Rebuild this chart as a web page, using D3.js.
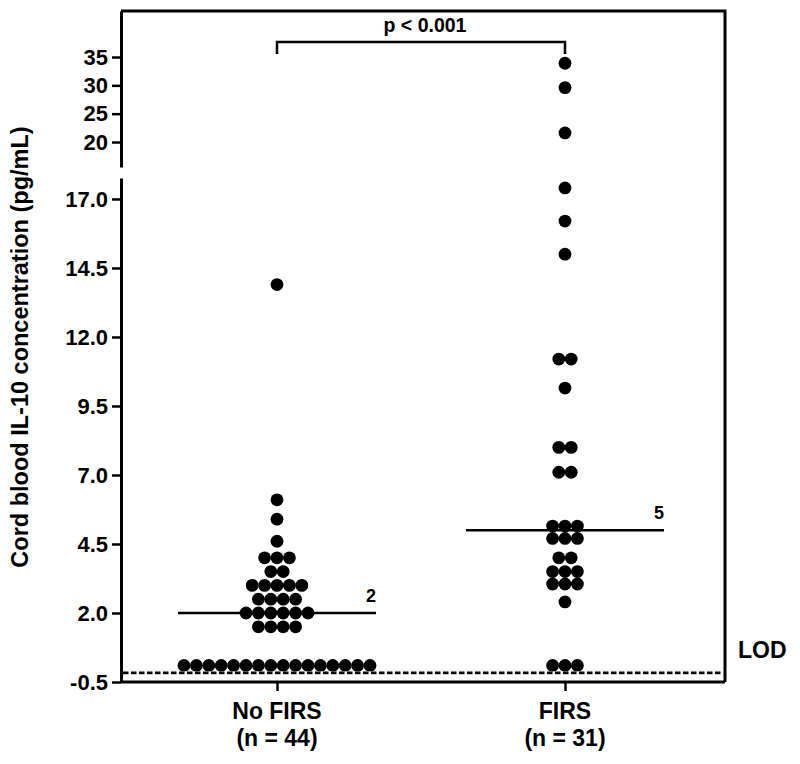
<!DOCTYPE html>
<html>
<head>
<meta charset="utf-8">
<script src="https://cdn.jsdelivr.net/npm/d3@7"></script>
<style>
  body { margin: 0; background: #fff; }
  svg text { font-family: 'Liberation Sans', Arial, sans-serif; font-weight: bold; fill: #000; }
</style>
</head>
<body>
<svg id="chart" width="800" height="764"></svg>
<script>
  'use strict';

  // groups on the x axis
  var groups = ['No FIRS', 'FIRS'];
  var groupCounts = ['(n = 44)', '(n = 31)'];

  // cord blood IL-10 (pg/mL), one entry per subject
  var noFirs = [0.1, 0.1, 0.1, 0.1, 0.1, 0.1, 0.1, 0.1, 0.1, 0.1, 0.1, 0.1, 0.1, 0.1, 0.1, 0.1,
                1.5, 1.5, 1.5, 1.5,
                2.0, 2.0, 2.0, 2.0, 2.0, 2.0,
                2.5, 2.5, 2.5, 2.5,
                3.0, 3.0, 3.0, 3.0, 3.0,
                3.5, 3.5,
                4.0, 4.0, 4.0,
                4.6, 5.4, 6.1, 13.9];
  var firs = [0.1, 0.1, 0.1,
              2.4,
              3.05, 3.05, 3.05,
              3.5, 3.5, 3.5,
              4.0, 4.0,
              4.7, 4.7, 4.7,
              5.15, 5.15, 5.15,
              7.1, 7.1, 8.0, 8.0,
              10.15, 11.2, 11.2,
              15.0, 16.2, 17.4,
              21.6, 29.6, 33.9];
  var medians = [2, 5];
  var medianLabels = ['2', '5'];

  // tick labels on the broken y axis
  var lowerTicks = [-0.5, 2.0, 4.5, 7.0, 9.5, 12.0, 14.5, 17.0];
  var upperTicks = [20, 25, 30, 35];
  var lodValue = -0.17;
  var pText = 'p < 0.001';

  (function() {
    var mLeft = 121, mRight = 725, mTop = 11, mBottom = 682;
    var breakTop = 167, breakBottom = 178;
    var r = 6.4, step = 12.4;

    var svg = d3.select('#chart');

    var x = d3.scalePoint().domain(groups).range([277, 565]);
    var yLow = d3.scaleLinear().domain([-0.5, 17.76]).range([mBottom, breakBottom]);
    var yHigh = d3.scaleLinear().domain([15.59, 43.12]).range([breakTop, mTop]);
    var y = function(v) { return v > 18 ? yHigh(v) : yLow(v); };

    // plain hyphen for negatives, as in the original
    var fmt1 = function(v) { return v.toFixed(1); };

    // frame: top and right sides
    svg.append('path')
        .attr('d', 'M' + mLeft + ',' + mTop + 'H' + mRight + 'V' + mBottom)
        .style('fill', 'none')
        .style('stroke', '#000')
        .style('stroke-width', 3);

    // y axis, two segments
    var axisLow = svg.append('g')
        .attr('transform', 'translate(' + mLeft + ',0)')
        .call(d3.axisLeft(yLow).tickValues(lowerTicks).tickFormat(fmt1).tickSize(9).tickSizeOuter(0).tickPadding(4));
    var axisHigh = svg.append('g')
        .attr('transform', 'translate(' + mLeft + ',0)')
        .call(d3.axisLeft(yHigh).tickValues(upperTicks).tickFormat(d3.format('d')).tickSize(9).tickSizeOuter(0).tickPadding(4));

    // x axis
    var axisX = svg.append('g')
        .attr('transform', 'translate(0,' + mBottom + ')')
        .call(d3.axisBottom(x).tickSize(9).tickSizeOuter(0).tickFormat(''));
    axisX.select('.domain').attr('d', 'M' + mLeft + ',0H' + mRight);

    [axisLow, axisHigh, axisX].forEach(function(a) {
      a.select('.domain').style('stroke-width', 3);
      a.selectAll('.tick line').style('stroke-width', 2.5);
      a.selectAll('.tick text').style('font-size', '22px');
      a.attr('font-family', null).attr('font-size', null);
    });

    // group labels
    groups.forEach(function(g, i) {
      svg.append('text')
          .attr('x', x(g)).attr('y', 719)
          .style('font-size', '23px')
          .style('text-anchor', 'middle')
          .text(g);
      svg.append('text')
          .attr('x', x(g)).attr('y', 746)
          .style('font-size', '23px')
          .style('text-anchor', 'middle')
          .text(groupCounts[i]);
    });

    // y title
    svg.append('text')
        .attr('transform', 'translate(28,347) rotate(-90)')
        .style('font-size', '23.5px')
        .style('text-anchor', 'middle')
        .text('Cord blood IL-10 concentration (pg/mL)');

    // dots: equal values share a row, centred on the group
    [noFirs, firs].forEach(function(vals, gi) {
      var rows = d3.groups(vals, function(v) { return v; });
      rows.forEach(function(row) {
        var n = row[1].length;
        row[1].forEach(function(v, k) {
          svg.append('circle')
              .attr('cx', x(groups[gi]) + (k - (n - 1) / 2) * step)
              .attr('cy', y(v))
              .attr('r', r)
              .style('fill', '#000');
        });
      });
    });

    // median lines
    medians.forEach(function(m, i) {
      var cx = x(groups[i]);
      svg.append('line')
          .attr('x1', cx - 99).attr('x2', cx + 99)
          .attr('y1', yLow(m)).attr('y2', yLow(m))
          .style('stroke', '#000')
          .style('stroke-width', 2.5);
      svg.append('text')
          .attr('x', cx + 99).attr('y', yLow(m) - 11)
          .style('font-size', '18px')
          .style('text-anchor', 'end')
          .text(medianLabels[i]);
    });

    // limit of detection
    svg.append('line')
        .attr('x1', mLeft + 2).attr('x2', mRight - 4)
        .attr('y1', yLow(lodValue)).attr('y2', yLow(lodValue))
        .style('stroke', '#fff')
        .style('stroke-width', 3);
    svg.append('line')
        .attr('x1', mLeft + 2).attr('x2', mRight - 4)
        .attr('y1', yLow(lodValue)).attr('y2', yLow(lodValue))
        .style('stroke', '#000')
        .style('stroke-width', 2.8)
        .style('stroke-dasharray', '5.5,2.5');
    svg.append('text')
        .attr('x', 738).attr('y', 658)
        .style('font-size', '23px')
        .text('LOD');

    // significance bracket
    svg.append('path')
        .attr('d', 'M' + x(groups[0]) + ',54V42H' + x(groups[1]) + 'V54')
        .style('fill', 'none')
        .style('stroke', '#000')
        .style('stroke-width', 2.5);
    svg.append('text')
        .attr('x', (x(groups[0]) + x(groups[1])) / 2 + 4).attr('y', 32)
        .style('font-size', '19.5px')
        .style('text-anchor', 'middle')
        .text(pText);
  })();
</script>
</body>
</html>
